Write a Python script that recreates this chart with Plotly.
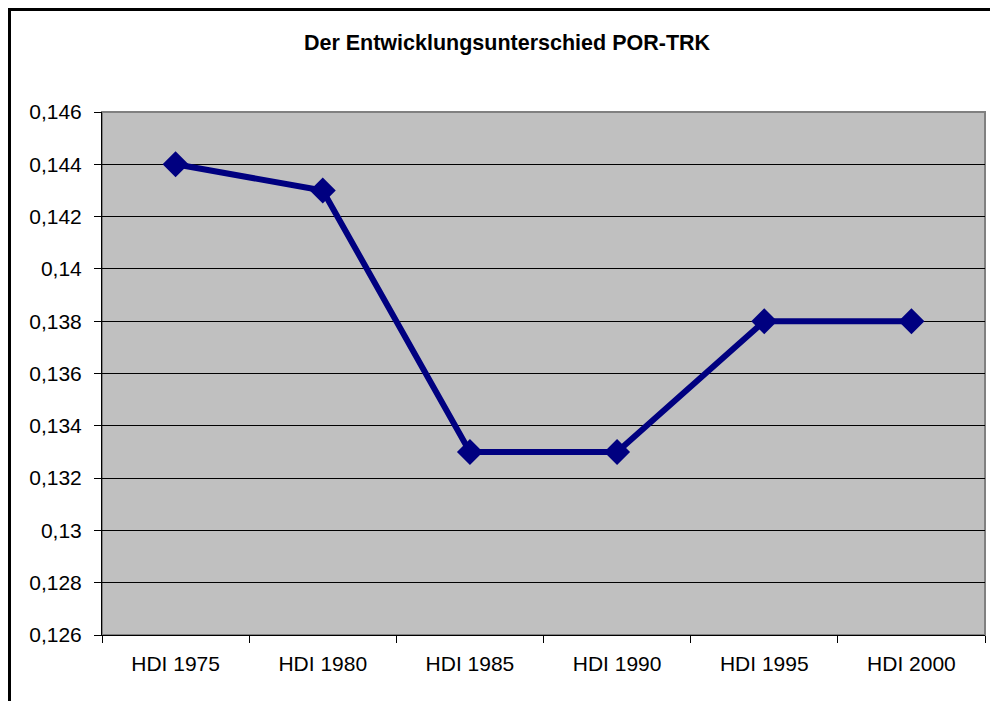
import plotly.graph_objects as go

categories = ["HDI 1975", "HDI 1980", "HDI 1985", "HDI 1990", "HDI 1995", "HDI 2000"]
values = [0.144, 0.143, 0.133, 0.133, 0.138, 0.138]
y_tick_vals = [0.126, 0.128, 0.13, 0.132, 0.134, 0.136, 0.138, 0.14, 0.142, 0.144, 0.146]
y_tick_text = ["0,126", "0,128", "0,13", "0,132", "0,134", "0,136", "0,138", "0,14", "0,142", "0,144", "0,146"]
title_text = "Der Entwicklungsunterschied POR-TRK"

OFF = 8  # page body margin
W, H = 998 - OFF, 701 - OFF
L, R, T, B = 102 - OFF, 13, 112 - OFF, 66
pw, ph = W - L - R, H - T - B

def px_x(x):
    return (x - OFF - L) / pw

def px_y(y):
    return (H - B - (y - OFF)) / ph

fig = go.Figure()
fig.add_trace(go.Scatter(
    x=categories, y=values, mode="lines+markers",
    line=dict(color="#000080", width=6),
    marker=dict(symbol="diamond", size=20, color="#000080"),
    showlegend=False, cliponaxis=False,
))

fig.update_layout(
    width=W, height=H,
    margin=dict(l=L, r=R, t=T, b=B),
    paper_bgcolor="white",
    plot_bgcolor="#C0C0C0",
    font=dict(family="Arial, Liberation Sans, sans-serif", size=21, color="black"),
    title=dict(text="<b>" + title_text + "</b>", x=px_x(507), xref="paper", xanchor="center",
               y=1 - (42 - OFF) / H, yanchor="middle", font=dict(size=21.5)),
    xaxis=dict(type="category", showgrid=False, showline=True, linecolor="black", linewidth=1,
               ticks="outside", ticklen=7, tickcolor="black", tickson="boundaries",
               ticklabelstandoff=10,
               range=[-0.5, 5.5], fixedrange=True, zeroline=False),
    yaxis=dict(range=[0.126, 0.146], tickvals=y_tick_vals, ticktext=y_tick_text,
               showgrid=True, gridcolor="black", gridwidth=1,
               showline=True, linecolor="black", linewidth=1,
               ticks="outside", ticklen=7, tickcolor="black", zeroline=False,
               ticklabelstandoff=8),
    shapes=[
        dict(type="rect", xref="paper", yref="paper", x0=0, x1=1, y0=0, y1=1,
             line=dict(color="#808080", width=2), layer="below"),
        dict(type="rect", xref="paper", yref="paper",
             x0=px_x(9.5), x1=px_x(1010), y0=px_y(720), y1=px_y(9.5),
             line=dict(color="black", width=3), layer="above"),
    ],
)

fig.write_html("out.html")
